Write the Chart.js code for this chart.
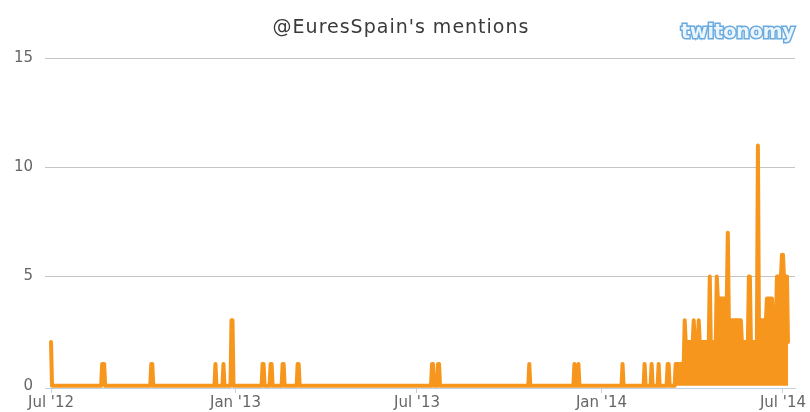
<!DOCTYPE html>
<html>
<head>
<meta charset="utf-8">
<script src="https://cdn.jsdelivr.net/npm/chart.js@4.4.0/dist/chart.umd.min.js"></script>
<style>
  body { margin: 0; background: #fff; }
  #wrap { width: 810px; height: 412px; position: relative; }
</style>
</head>
<body>
<div id="wrap"><canvas id="mycanvas"></canvas></div>
<script>
// days counted from 1 Jul 2012
var lastDay = 735;

// isolated spikes before the busy spring of 2014
var spikeDays = [0, 51, 52, 53, 100, 101, 164, 172, 180, 181, 211, 212, 219, 220, 231, 232, 246, 247,
	380, 381, 386, 387, 477, 522, 526, 570, 592, 599, 606, 615, 616];
var spikeValues = [2, 1, 1, 1, 1, 1, 1, 1, 3, 3, 1, 1, 1, 1, 1, 1, 1, 1,
	1, 1, 1, 1, 1, 1, 1, 1, 1, 1, 1, 1, 1];

// daily values from day 623 (mid March 2014) to the end
var recentStart = 623;
var recentMentions = [
	1, 1, 1, 1, 1, 1, 1, 1, 1, 3,
	2, 2, 2, 2, 2, 2, 2, 2, 3, 2,
	2, 2, 2, 3, 2, 2, 2, 2, 2, 2,
	2, 2, 2, 2, 5, 2, 2, 2, 2, 2,
	2, 5, 4, 4, 4, 4, 4, 4, 4, 4,
	4, 4, 7, 3, 3, 3, 3, 3, 3, 3,
	3, 3, 3, 3, 3, 3, 2, 2, 2, 2,
	2, 2, 2, 5, 5, 2, 2, 2, 2, 2,
	2, 2, 11, 3, 3, 3, 3, 3, 3, 3,
	3, 4, 4, 4, 4, 4, 4, 3, 3, 3,
	3, 5, 5, 5, 5, 5, 6, 6, 5, 5,
	5, 5, 2
];

var tickDays = [0, 184, 365, 549, 730];
var tickLabels = ["Jul '12", "Jan '13", "Jul '13", "Jan '14", "Jul '14"];
var yTicks = [0, 5, 10, 15];

var daily = [];
for (var d = 0; d <= lastDay; d++) daily.push(0);
for (var i in spikeDays) daily[spikeDays[i]] = spikeValues[i];
for (var j in recentMentions) daily[recentStart + Number(j)] = recentMentions[j];

var points = [];
for (var k = 0; k < daily.length; k++) points.push({x: k, y: daily[k]});

Chart.defaults.font.family = "'DejaVu Sans', sans-serif";

var headerPlugin = {
	id: 'header',
	afterDraw: function(chart) {
		var ctx = chart.ctx;
		ctx.save();
		ctx.fillStyle = '#3a3a3a';
		ctx.font = "19px 'DejaVu Sans'";
		ctx.letterSpacing = '1px';
		ctx.textAlign = 'center';
		ctx.textBaseline = 'middle';
		ctx.fillText("@EuresSpain's mentions", 401, 28);

		ctx.letterSpacing = '0px';
		ctx.font = "bold 19px 'DejaVu Sans'";
		ctx.textAlign = 'right';
		ctx.lineWidth = 3;
		ctx.strokeStyle = '#6aaade';
		ctx.strokeText('twitonomy', 795, 33);
		ctx.fillStyle = '#eaf5fd';
		ctx.fillText('twitonomy', 795, 33);
		ctx.restore();
	}
};

var ctx = document.getElementById('mycanvas');

var LineGraph = new Chart(ctx, {
	type: 'line',
	data: {
		datasets: [
			{
				label: 'Mentions',
				data: points,
				borderColor: '#f7961c',
				backgroundColor: '#f7961c',
				borderWidth: 4,
				borderJoinStyle: 'round',
				borderCapStyle: 'round',
				pointRadius: 0,
				tension: 0,
				fill: 'origin'
			}
		]
	},
	options: {
		responsive: true,
		maintainAspectRatio: false,
		animation: false,
		layout: { padding: { top: 58, right: 15, left: 0, bottom: 0 } },
		plugins: {
			legend: { display: false },
			title: { display: false },
			tooltip: { enabled: false }
		},
		scales: {
			x: {
				type: 'linear',
				min: -6,
				max: 742,
				afterBuildTicks: function(scale) {
					scale.ticks = tickDays.map(function(v) { return {value: v}; });
				},
				afterFit: function(scale) {
					scale.height = 24;
					scale.paddingLeft = 0;
					scale.paddingRight = 0;
				},
				border: { color: '#c0d0e0' },
				grid: { drawOnChartArea: false, color: '#c0d0e0', tickLength: 5 },
				ticks: {
					autoSkip: false,
					maxRotation: 0,
					padding: 1,
					color: '#666',
					font: { size: 15 },
					callback: function(value) {
						var idx = tickDays.indexOf(value);
						return idx >= 0 ? tickLabels[idx] : '';
					}
				}
			},
			y: {
				min: -0.1,
				max: 15,
				afterBuildTicks: function(scale) {
					scale.ticks = yTicks.map(function(v) { return {value: v}; });
				},
				afterFit: function(scale) { scale.width = 45; },
				border: { display: false },
				grid: {
					drawTicks: false,
					color: function(c) { return c.tick && c.tick.value === 0 ? 'rgba(0,0,0,0)' : '#c4c4c4'; }
				},
				ticks: {
					padding: 12,
					color: '#666',
					font: { size: 15 },
					callback: function(value) { return value; }
				}
			}
		}
	},
	plugins: [headerPlugin]
});
</script>
</body>
</html>
